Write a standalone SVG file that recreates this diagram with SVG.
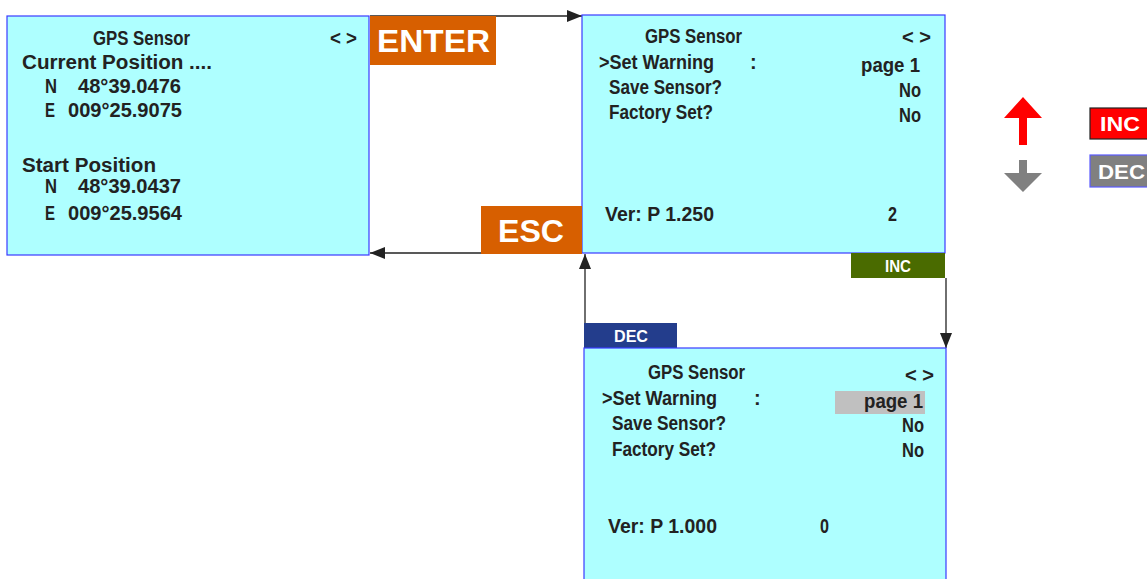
<svg xmlns="http://www.w3.org/2000/svg" width="1147" height="579" viewBox="0 0 1147 579">
<defs>
<style>
.scr{fill:#aeffff;stroke:#3a3aff;stroke-width:1.2}
.t{font-family:"Liberation Sans",Arial,sans-serif;font-weight:bold;font-size:20px;fill:#222}
.w{font-family:"Liberation Sans",Arial,sans-serif;font-weight:bold;fill:#fff}
.ln{stroke:#222;stroke-width:1.3;fill:none}
</style>
<marker id="ah" viewBox="0 0 15 12" refX="15" refY="6" markerWidth="15" markerHeight="12" markerUnits="userSpaceOnUse" orient="auto"><path d="M0,0L15,6L0,12z" fill="#222"/></marker>
</defs>
<g id="connectors">
<line class="ln" x1="370" y1="16" x2="582" y2="16" marker-end="url(#ah)"/>
<line class="ln" x1="582" y1="253" x2="370" y2="253" marker-end="url(#ah)"/>
<line class="ln" x1="585" y1="323" x2="585" y2="254" marker-end="url(#ah)"/>
<line class="ln" x1="946" y1="278" x2="946" y2="348" marker-end="url(#ah)"/>
</g>
<g id="screen1">
<rect class="scr" x="7" y="16" width="362" height="239"/>
<text class="t" x="93" y="45" textLength="97" lengthAdjust="spacingAndGlyphs">GPS Sensor</text>
<text class="t" x="330" y="45" textLength="27" lengthAdjust="spacingAndGlyphs">&lt; &gt;</text>
<text class="t" x="22" y="69" textLength="190" lengthAdjust="spacingAndGlyphs">Current Position ....</text>
<text class="t" x="45" y="93" textLength="12" lengthAdjust="spacingAndGlyphs">N</text>
<text class="t" x="78" y="93" textLength="103" lengthAdjust="spacingAndGlyphs">48°39.0476</text>
<text class="t" x="45" y="117" textLength="10" lengthAdjust="spacingAndGlyphs">E</text>
<text class="t" x="68" y="117" textLength="114" lengthAdjust="spacingAndGlyphs">009°25.9075</text>
<text class="t" x="22" y="172" textLength="134" lengthAdjust="spacingAndGlyphs">Start Position</text>
<text class="t" x="45" y="193" textLength="12" lengthAdjust="spacingAndGlyphs">N</text>
<text class="t" x="78" y="193" textLength="103" lengthAdjust="spacingAndGlyphs">48°39.0437</text>
<text class="t" x="45" y="220" textLength="10" lengthAdjust="spacingAndGlyphs">E</text>
<text class="t" x="68" y="220" textLength="114" lengthAdjust="spacingAndGlyphs">009°25.9564</text>
</g>
<g id="enter">
<rect x="370" y="16" width="126" height="49" fill="#d75f00"/>
<text class="w" x="377" y="52" font-size="31" textLength="113" lengthAdjust="spacingAndGlyphs">ENTER</text>
</g>
<g id="screen2">
<rect class="scr" x="582" y="15" width="363" height="238"/>
<text class="t" x="645" y="43" textLength="97" lengthAdjust="spacingAndGlyphs">GPS Sensor</text>
<text class="t" x="902" y="44" textLength="29" lengthAdjust="spacingAndGlyphs">&lt; &gt;</text>
<text class="t" x="599" y="69" textLength="115" lengthAdjust="spacingAndGlyphs">&gt;Set Warning</text>
<text class="t" x="750" y="69">:</text>
<text class="t" x="861" y="72" textLength="59" lengthAdjust="spacingAndGlyphs">page 1</text>
<text class="t" x="609" y="94" textLength="113" lengthAdjust="spacingAndGlyphs">Save Sensor?</text>
<text class="t" x="899" y="97" textLength="22" lengthAdjust="spacingAndGlyphs">No</text>
<text class="t" x="609" y="119" textLength="104" lengthAdjust="spacingAndGlyphs">Factory Set?</text>
<text class="t" x="899" y="122" textLength="22" lengthAdjust="spacingAndGlyphs">No</text>
<text class="t" x="605" y="221" textLength="109" lengthAdjust="spacingAndGlyphs">Ver: P 1.250</text>
<text class="t" x="888" y="221" textLength="9" lengthAdjust="spacingAndGlyphs">2</text>
</g>
<g id="esc">
<rect x="481" y="206" width="101" height="48" fill="#d75f00"/>
<text class="w" x="498" y="242" font-size="31" textLength="66" lengthAdjust="spacingAndGlyphs">ESC</text>
</g>
<g id="inc-btn">
<rect x="851" y="253" width="94" height="25" fill="#4a6b00"/>
<text class="w" x="885" y="272" font-size="16" textLength="26" lengthAdjust="spacingAndGlyphs">INC</text>
</g>
<g id="dec-btn">
<rect x="584" y="323" width="93" height="25" fill="#233d8c"/>
<text class="w" x="614" y="342" font-size="16" textLength="34" lengthAdjust="spacingAndGlyphs">DEC</text>
</g>
<g id="screen3">
<rect class="scr" x="584" y="348" width="362" height="240"/>
<rect x="835" y="391" width="90" height="23" fill="#c0c0c0"/>
<text class="t" x="648" y="379" textLength="97" lengthAdjust="spacingAndGlyphs">GPS Sensor</text>
<text class="t" x="905" y="382" textLength="29" lengthAdjust="spacingAndGlyphs">&lt; &gt;</text>
<text class="t" x="602" y="405" textLength="115" lengthAdjust="spacingAndGlyphs">&gt;Set Warning</text>
<text class="t" x="754" y="405">:</text>
<text class="t" x="864" y="408" textLength="59" lengthAdjust="spacingAndGlyphs">page 1</text>
<text class="t" x="612" y="430" textLength="114" lengthAdjust="spacingAndGlyphs">Save Sensor?</text>
<text class="t" x="902" y="432" textLength="22" lengthAdjust="spacingAndGlyphs">No</text>
<text class="t" x="612" y="456" textLength="104" lengthAdjust="spacingAndGlyphs">Factory Set?</text>
<text class="t" x="902" y="457" textLength="22" lengthAdjust="spacingAndGlyphs">No</text>
<text class="t" x="608" y="533" textLength="109" lengthAdjust="spacingAndGlyphs">Ver: P 1.000</text>
<text class="t" x="820" y="533" textLength="9" lengthAdjust="spacingAndGlyphs">0</text>
</g>
<g id="legend">
<path d="M1023,97L1042,118L1027,118L1027,145L1019,145L1019,118L1004,118Z" fill="#ff0000"/>
<path d="M1019,160L1027,160L1027,173L1042,173L1023,192L1004,173L1019,173Z" fill="#808080"/>
<rect x="1090" y="108" width="62" height="31" fill="#ff0000" stroke="#222" stroke-width="1.2"/>
<text class="w" x="1100" y="131" font-size="21" textLength="40" lengthAdjust="spacingAndGlyphs">INC</text>
<rect x="1090" y="155" width="62" height="32" fill="#808080" stroke="#5a5aff" stroke-width="1.2"/>
<text class="w" x="1098" y="179" font-size="21" textLength="47" lengthAdjust="spacingAndGlyphs">DEC</text>
</g>
</svg>
